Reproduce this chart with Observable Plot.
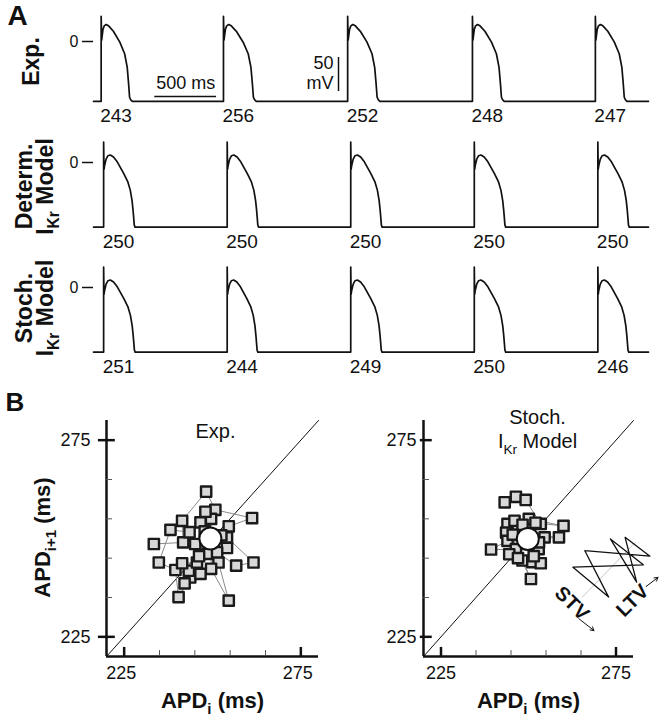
<!DOCTYPE html>
<html><head><meta charset="utf-8">
<script src="https://cdn.jsdelivr.net/npm/d3@7"></script>
<script src="https://cdn.jsdelivr.net/npm/@observablehq/plot@0.6"></script>
<style>
body{margin:0;background:#fff}
#fig{position:relative;width:666px;height:719px;overflow:hidden}
#fig svg{position:absolute;overflow:visible}
</style></head><body><div id="fig"></div><script>
const FONT = '"Liberation Sans", Arial, Helvetica, sans-serif';

// ---------- Panel A data ----------
const rowLabels = ["Exp.", "Determ.\nI_{Kr} Model", "Stoch.\nI_{Kr} Model"];
const expAPD = [243, 256, 252, 248, 247];
const detAPD = [250, 250, 250, 250, 250];
const stoAPD = [251, 244, 249, 250, 246];
const expOnsets = [0, 990, 1995, 3005, 4000];      // ms
const modelOnsets = [20, 1020, 2020, 3020, 4020];  // ms
// action-potential shapes (ms after upstroke, mV)
const expShapeT = [0, 0, 4, 8, 15, 25, 40, 60, 99, 151, 190, 211, 222, 230, 240, 252];
const expShapeV = [-88, 37, 2, 8, 18, 23, 25, 23, 15, -1, -18, -38, -62, -82, -86, -88];
const expShapeRef = 243;
const modelShapeT = [0, 0, 3, 8, 20, 35, 54, 80, 110, 162, 195, 216, 230, 238, 244, 248, 254];
const modelShapeV = [-95, 30, -10, -4, 5, 10, 11, 8, 1, -16, -28, -41, -56, -70, -83, -92, -95];
const modelShapeRef = 250;
const restExp = -88, restModel = -95;
const traceSpan = [-62, 4430];
// scale bars
const timeBarT = [434, 934], timeBarV = -81;
const voltBarT = 1921, voltBarV = [-23.5, -73.5];

// ---------- Panel B data ----------
const axisDomain = [220, 280];
const majorTicks = [225, 275];
const minorTicks = [235, 245, 255, 265];
const expX = [233.4,241.7,241.4,248.2,250.8,261.2,254.6,254.1,251.7,254.6,249.6,249.6,246.6,243.5,238.1,234.8,239.5,240.4,243.7,242.1,243.3,241.4,245.6,246.6,245.1,248.6,251.3,256.7,261.6,254.1,252.5,247.8,246.2,248.0];
const expY = [248.6,249.0,254.5,261.9,257.3,255.2,253.1,247.6,243.9,234.2,242.3,255.0,254.1,251.6,252.2,243.9,242.0,235.1,240.1,238.6,241.8,243.7,243.9,241.0,248.6,246.1,246.5,243.1,243.9,250.3,250.8,251.8,245.5,256.8];
const expMean = [249.4, 250.0];
const stoX = [243.2,246.4,249.2,253.5,244.0,250.1,260.0,246.0,243.6,258.7,244.0,239.3,252.9,246.4,250.7,248.3,254.6,251.1,253.5,248.3,244.5,252.0,247.0,245.5,253.0,251.5];
const stoY = [259.2,260.6,259.8,253.7,253.7,255.0,253.2,254.5,251.5,250.3,249.4,247.2,247.3,247.3,239.7,244.4,250.3,244.0,243.7,253.5,246.0,254.0,245.0,251.0,249.0,245.5];
const stoMean = [249.8, 249.9];
// STV / LTV schematic
const zigX = [266.1, 272.9, 262.7, 282.8, 273.4, 280.9, 277.6, 284.7, 266.1];
const zigY = [246.9, 235.1, 242.7, 243.3, 249.9, 238.9, 250.3, 245.5, 246.9];
const ltvAxisX = [265.4, 280.5], ltvAxisY = [235.1, 249.0];
const schemLabels = [
  {label: "STV", x: 262.4, y: 233.5, rot: 45, ax1: 264.4, ay1: 229.6, ax2: 268.7, ay2: 226.6},
  {label: "LTV", x: 279.7, y: 234.2, rot: -45, ax1: 283.6, ay1: 237.8, ax2: 287.0, ay2: 240.1}
];

// ---------- helpers ----------
const baseStyle = {fontFamily: FONT, fontSize: "16px", color: "#111", background: "transparent", overflow: "visible"};

function trace(onsets, apds, T, V, ref, rest) {
  const pts = [{t: traceSpan[0], v: rest}];
  onsets.forEach((o, i) => T.forEach((tt, j) => pts.push({t: o + tt * apds[i] / ref, v: V[j]})));
  pts.push({t: traceSpan[1], v: rest});
  return pts;
}

function rowPlot(pts, onsets, apds, rest, label, ldx, ldy, extras = []) {
  return Plot.plot({
    width: 666, height: 125, marginLeft: 93, marginRight: 18, marginTop: 0, marginBottom: 0,
    x: {domain: traceSpan, axis: null},
    y: {domain: [-100, 50], range: [109, 7]},
    style: baseStyle,
    marks: [
      Plot.axisY([0], {anchor: "left", tickSize: 11, tickPadding: 4, fontSize: 16, label: null, strokeWidth: 1.5}),
      Plot.line(pts, {x: "t", y: "v", stroke: "#111", strokeWidth: 1.7}),
      Plot.text(apds.map((a, i) => ({t: onsets[i], a})), {x: "t", y: () => rest, text: "a", dy: 15, dx: -1, textAnchor: "start", fontSize: 19}),
      Plot.text([label], {text: d => d, frameAnchor: "left", textAnchor: "middle", lineAnchor: "middle", rotate: -90, dx: ldx, dy: ldy, fontSize: 23, fontWeight: "bold", lineHeight: 0.93}),
      ...extras
    ]
  });
}

function poincare(o) {
  const pts = o.xs.map((x, i) => ({x, y: o.ys[i]}));
  return Plot.plot({
    width: 333, height: 339, marginLeft: o.ml, marginRight: o.mr, marginTop: 40, marginBottom: 63,
    x: {domain: axisDomain, axis: null},
    y: {domain: axisDomain, axis: null},
    style: baseStyle,
    marks: [
      Plot.line(axisDomain, {x: d => d, y: d => d, stroke: "#111", strokeWidth: 1}),
      Plot.line(pts, {x: "x", y: "y", stroke: "#8a8a8a", strokeWidth: 1}),
      Plot.dot(pts, {x: "x", y: "y", symbol: "square", r: 5.8, fill: "#d8d8d8", stroke: "#1a1a1a", strokeWidth: 2.4, strokeLinejoin: "round"}),
      Plot.dot([o.mean], {x: d => d[0], y: d => d[1], r: 11, fill: "#fff", stroke: "#111", strokeWidth: 2}),
      // axes
      Plot.ruleX([axisDomain[0]], {stroke: "#111", strokeWidth: 2.5}),
      Plot.ruleY([axisDomain[0]], {stroke: "#111", strokeWidth: 2.5}),
      Plot.ruleY(majorTicks, {y: d => d, x1: () => 220 - o.tickOut, x2: () => 222.5, stroke: "#111", strokeWidth: 2.5}),
      Plot.ruleX(majorTicks, {x: d => d, y1: () => 220, y2: () => 222.3, stroke: "#111", strokeWidth: 2.5}),
      Plot.ruleY(minorTicks, {y: d => d, x1: () => 220, x2: () => 221.7, stroke: "#555", strokeWidth: 1}),
      Plot.ruleX(minorTicks, {x: d => d, y1: () => 220, y2: () => 221.5, stroke: "#555", strokeWidth: 1}),
      Plot.text(majorTicks, {x: () => 220, y: d => d, text: d => d, dx: o.labDx, textAnchor: "end", fontSize: 18}),
      Plot.text(majorTicks, {x: d => d, y: () => 220, text: d => d, dx: o.xLabDx, dy: 17, fontSize: 18}),
      Plot.text(["APD_{i} (ms)"], {text: d => d, frameAnchor: "bottom", textAnchor: "middle", lineAnchor: "middle", dy: 44, fontSize: 22, fontWeight: "bold"}),
      Plot.text([o.title], {text: d => d, frameAnchor: "top", textAnchor: "middle", lineAnchor: "middle", dx: o.titleDx, dy: o.titleDy, fontSize: 20, lineHeight: 1.2}),
      ...(o.extras || [])
    ]
  });
}

// ---------- build ----------
const fig = document.getElementById("fig");
function place(svg, left, top) {
  svg.style.left = left + "px"; svg.style.top = top + "px";
  fig.appendChild(svg);
}

const row1 = rowPlot(trace(expOnsets, expAPD, expShapeT, expShapeV, expShapeRef, restExp), expOnsets, expAPD, restExp, rowLabels[0], -61, -1.5, [
  Plot.text(["A"], {text: d => d, frameAnchor: "top-left", dx: -86, dy: 5, textAnchor: "start", lineAnchor: "top", fontSize: 28, fontWeight: "bold"}),
  Plot.ruleY([timeBarV], {y: d => d, x1: () => timeBarT[0], x2: () => timeBarT[1], stroke: "#111", strokeWidth: 1.5}),
  Plot.text(["500 ms"], {text: d => d, x: () => (timeBarT[0] + timeBarT[1]) / 2, y: () => -61.5, fontSize: 18}),
  Plot.ruleX([voltBarT], {x: d => d, y1: () => voltBarV[0], y2: () => voltBarV[1], stroke: "#111", strokeWidth: 1.5}),
  Plot.text(["50", "mV"], {text: d => d, x: () => voltBarT - 40, y: (d, i) => i ? -62 : -32, textAnchor: "end", fontSize: 18})
]);
place(row1, 0, 0);

const row2 = rowPlot(trace(modelOnsets, detAPD, modelShapeT, modelShapeV, modelShapeRef, restModel), modelOnsets, detAPD, restModel, rowLabels[1], -58, 2.5);
place(row2, 0, 121);
const row3 = rowPlot(trace(modelOnsets, stoAPD, modelShapeT, modelShapeV, modelShapeRef, restModel), modelOnsets, stoAPD, restModel, rowLabels[2], -58, -1);
place(row3, 0, 245.5);

const left = poincare({xs: expX, ys: expY, mean: expMean, ml: 106, mr: 15, tickOut: 2.3, labDx: -16, xLabDx: -3,
  title: "Exp.", titleDx: 3, titleDy: 10,
  extras: [
    Plot.text(["APD_{i+1} (ms)"], {text: d => d, frameAnchor: "left", textAnchor: "middle", lineAnchor: "middle", rotate: -90, dx: -64, dy: -1, fontSize: 22, fontWeight: "bold"}),
    Plot.text(["B"], {text: d => d, frameAnchor: "top-left", dx: -101, dy: -28, textAnchor: "start", lineAnchor: "top", fontSize: 26, fontWeight: "bold"})
  ]});
place(left, 0, 380);

const right = poincare({xs: stoX, ys: stoY, mean: stoMean, ml: 90, mr: 33, tickOut: 0.9, labDx: -7, xLabDx: 0,
  title: "Stoch.\nI_{Kr} Model", titleDx: 9, titleDy: 8,
  extras: [
    Plot.line(ltvAxisX, {x: d => d, y: (d, i) => ltvAxisY[i], stroke: "#c8c8c8", strokeWidth: 1}),
    Plot.line(zigX, {x: d => d, y: (d, i) => zigY[i], stroke: "#111", strokeWidth: 1.3}),
    Plot.text(schemLabels, {x: "x", y: "y", text: "label", rotate: d => d.rot, textAnchor: "middle", lineAnchor: "middle", fontSize: 20, fontWeight: "bold"}),
    Plot.arrow(schemLabels, {x1: "ax1", y1: "ay1", x2: "ax2", y2: "ay2", stroke: "#111", strokeWidth: 1, headLength: 6})
  ]});
place(right, 333, 380);

// turn _{...} into real subscripts
const NS = "http://www.w3.org/2000/svg";
fig.querySelectorAll("text, tspan").forEach(el => {
  if (el.childNodes.length !== 1 || el.firstChild.nodeType !== 3) return;
  const s = el.textContent;
  if (!s.includes("_{")) return;
  const fs = parseFloat(getComputedStyle(el).fontSize) || 16;
  const shift = 0.28 * fs;
  el.textContent = "";
  const re = /_\{([^}]*)\}/g; let last = 0, m, shifted = false;
  const add = (txt, sub) => {
    const t = document.createElementNS(NS, "tspan");
    t.textContent = txt;
    if (sub) { t.setAttribute("font-size", (0.68 * fs).toFixed(1)); if (!shifted) t.setAttribute("dy", shift); shifted = true; }
    else if (shifted) { t.setAttribute("dy", -shift); shifted = false; }
    el.appendChild(t);
  };
  while ((m = re.exec(s))) {
    if (m.index > last) add(s.slice(last, m.index), false);
    add(m[1], true);
    last = re.lastIndex;
  }
  if (last < s.length) add(s.slice(last), false);
});
</script></body></html>
